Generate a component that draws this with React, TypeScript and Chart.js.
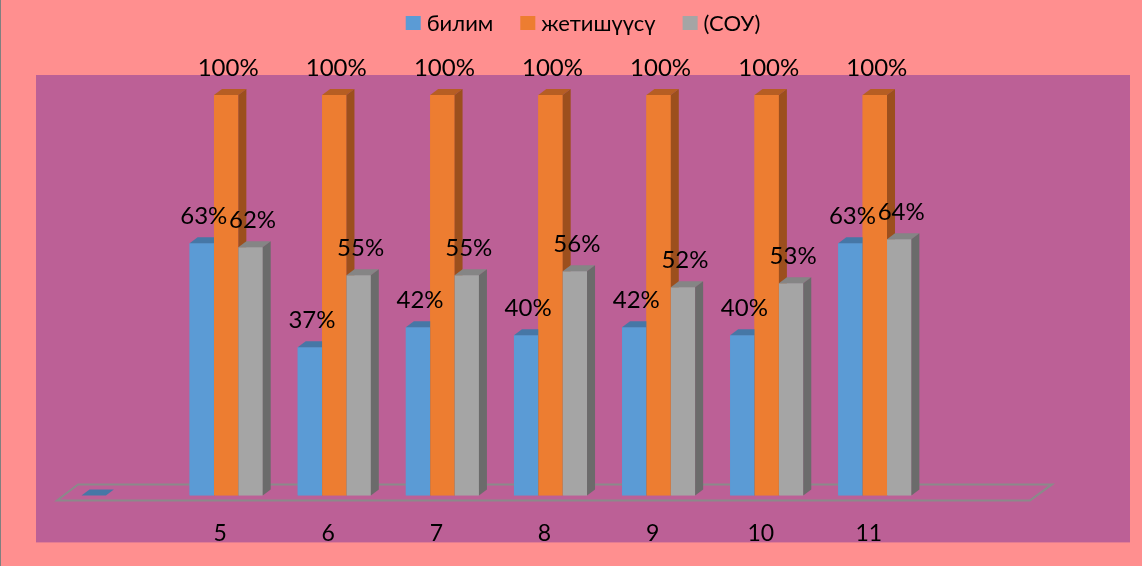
import { useEffect, useRef } from "react";
import { Chart, registerables } from "chart.js";

Chart.register(...registerables);

const categories = ["", "5", "6", "7", "8", "9", "10", "11", ""];
const bilim = [0, 0.63, 0.37, 0.42, 0.4, 0.42, 0.4, 0.63, null];
const jetishuusu = [null, 1, 1, 1, 1, 1, 1, 1, null];
const sou = [null, 0.62, 0.55, 0.55, 0.56, 0.52, 0.53, 0.64, null];
const seriesNames = ["билим", "жетишүүсү", "(СОУ)"];

const frontColors = ["#5B9BD5", "#ED7D31", "#A5A5A5"];
const topColors = ["#4677A6", "#B65E23", "#858585"];
const sideColors = ["#3E6A94", "#9C4F1D", "#6B6B6B"];

const FONT = "Lato, 'Open Sans', sans-serif";

const threeD = {
  id: "threeD",
  beforeDraw(chart: any) {
    const { ctx, width, height, chartArea } = chart;
    ctx.save();
    ctx.fillStyle = "#FF8F8F";
    ctx.fillRect(0, 0, width, height);
    ctx.fillStyle = "#BC6096";
    const l = chartArea.left - 28;
    const r = chartArea.right + 93;
    ctx.fillRect(l, chartArea.top, r - l, chartArea.bottom + 47 - chartArea.top);
    ctx.strokeStyle = "#808080";
    ctx.lineWidth = 1;
    ctx.beginPath();
    ctx.moveTo(0.5, 0);
    ctx.lineTo(0.5, height);
    ctx.stroke();

    // legend
    ctx.font = `22px ${FONT}`;
    ctx.textBaseline = "middle";
    ctx.textAlign = "left";
    const box = 15;
    const gapBox = 6;
    const gapItem = 27;
    const widths = seriesNames.map((s) => ctx.measureText(s).width);
    const total =
      widths.reduce((a, w) => a + box + gapBox + w, 0) + gapItem * (seriesNames.length - 1);
    let x = (l + r) / 2 - total / 2;
    const cy = 23;
    seriesNames.forEach((s, d) => {
      ctx.fillStyle = frontColors[d];
      ctx.fillRect(x, cy - 7, box, 14);
      ctx.fillStyle = "#000";
      ctx.fillText(s, x + box + gapBox, cy + 1);
      x += box + gapBox + widths[d] + gapItem;
    });
    ctx.restore();
  },
  beforeDatasetsDraw(chart: any) {
    const { ctx, chartArea } = chart;
    const fy = chartArea.bottom + 5;
    const by = chartArea.bottom - 11;
    ctx.save();
    ctx.strokeStyle = "#8A8A8A";
    ctx.lineWidth = 2;
    ctx.beginPath();
    ctx.moveTo(chartArea.left - 7, fy);
    ctx.lineTo(chartArea.right - 7, fy);
    ctx.lineTo(chartArea.right + 15, by);
    ctx.lineTo(chartArea.left + 14, by);
    ctx.closePath();
    ctx.stroke();
    ctx.restore();
  },
  afterDatasetsDraw(chart: any) {
    const { ctx } = chart;
    const dx = 8;
    const dy = -6;
    const n = chart.data.labels.length;
    ctx.save();
    for (let i = 0; i < n; i++) {
      chart.data.datasets.forEach((ds: any, d: number) => {
        const v = ds.data[i];
        if (v === null || v === undefined) return;
        const el = chart.getDatasetMeta(d).data[i];
        const { x, y, base, width } = el.getProps(["x", "y", "base", "width"], true);
        const l = x - width / 2;
        const r = x + width / 2;
        ctx.fillStyle = frontColors[d];
        ctx.fillRect(l, y, width, base - y);
        ctx.fillStyle = topColors[d];
        ctx.beginPath();
        ctx.moveTo(l, y);
        ctx.lineTo(r, y);
        ctx.lineTo(r + dx, y + dy);
        ctx.lineTo(l + dx, y + dy);
        ctx.closePath();
        ctx.fill();
        ctx.fillStyle = sideColors[d];
        ctx.beginPath();
        ctx.moveTo(r, y);
        ctx.lineTo(r + dx, y + dy);
        ctx.lineTo(r + dx, base + dy);
        ctx.lineTo(r, base);
        ctx.closePath();
        ctx.fill();
      });
    }
    ctx.fillStyle = "#000";
    ctx.font = `24px ${FONT}`;
    ctx.textAlign = "center";
    ctx.textBaseline = "middle";
    chart.data.datasets.forEach((ds: any, d: number) => {
      const meta = chart.getDatasetMeta(d);
      ds.data.forEach((v: any, i: number) => {
        if (v === null || v === undefined || v <= 0) return;
        const { x, y } = meta.data[i].getProps(["x", "y"], true);
        ctx.fillText(`${Math.round(v * 100)}%`, x + 2, y - 27);
      });
    });
    ctx.restore();
  },
};

export default function App() {
  const ref = useRef<HTMLCanvasElement>(null);
  useEffect(() => {
    if (!ref.current) return;
    const seriesData = [bilim, jetishuusu, sou];
    const chart = new Chart(ref.current, {
      type: "bar",
      data: {
        labels: categories,
        datasets: seriesNames.map((name, d) => ({
          label: name,
          data: seriesData[d],
          backgroundColor: frontColors[d],
          borderWidth: 0,
          barPercentage: 1,
          categoryPercentage: 0.676,
        })),
      },
      options: {
        responsive: false,
        animation: false,
        layout: { padding: { left: 64, right: 105, top: 75, bottom: 3 } },
        plugins: {
          tooltip: { enabled: false },
          legend: { display: false },
        },
        scales: {
          x: {
            grid: { display: false },
            border: { display: false },
            ticks: {
              font: { family: FONT, size: 23 },
              color: "#000",
              padding: 16,
              labelOffset: -6,
              maxRotation: 0,
              autoSkip: false,
            },
          },
          y: {
            display: false,
            min: 0,
            max: 1.05,
          },
        },
      },
      plugins: [threeD],
    });
    return () => chart.destroy();
  }, []);
  return (
    <div style={{ position: "absolute", left: 0, top: 0, width: 1142, height: 566 }}>
      <canvas ref={ref} width={1142} height={566} style={{ display: "block" }} />
    </div>
  );
}
